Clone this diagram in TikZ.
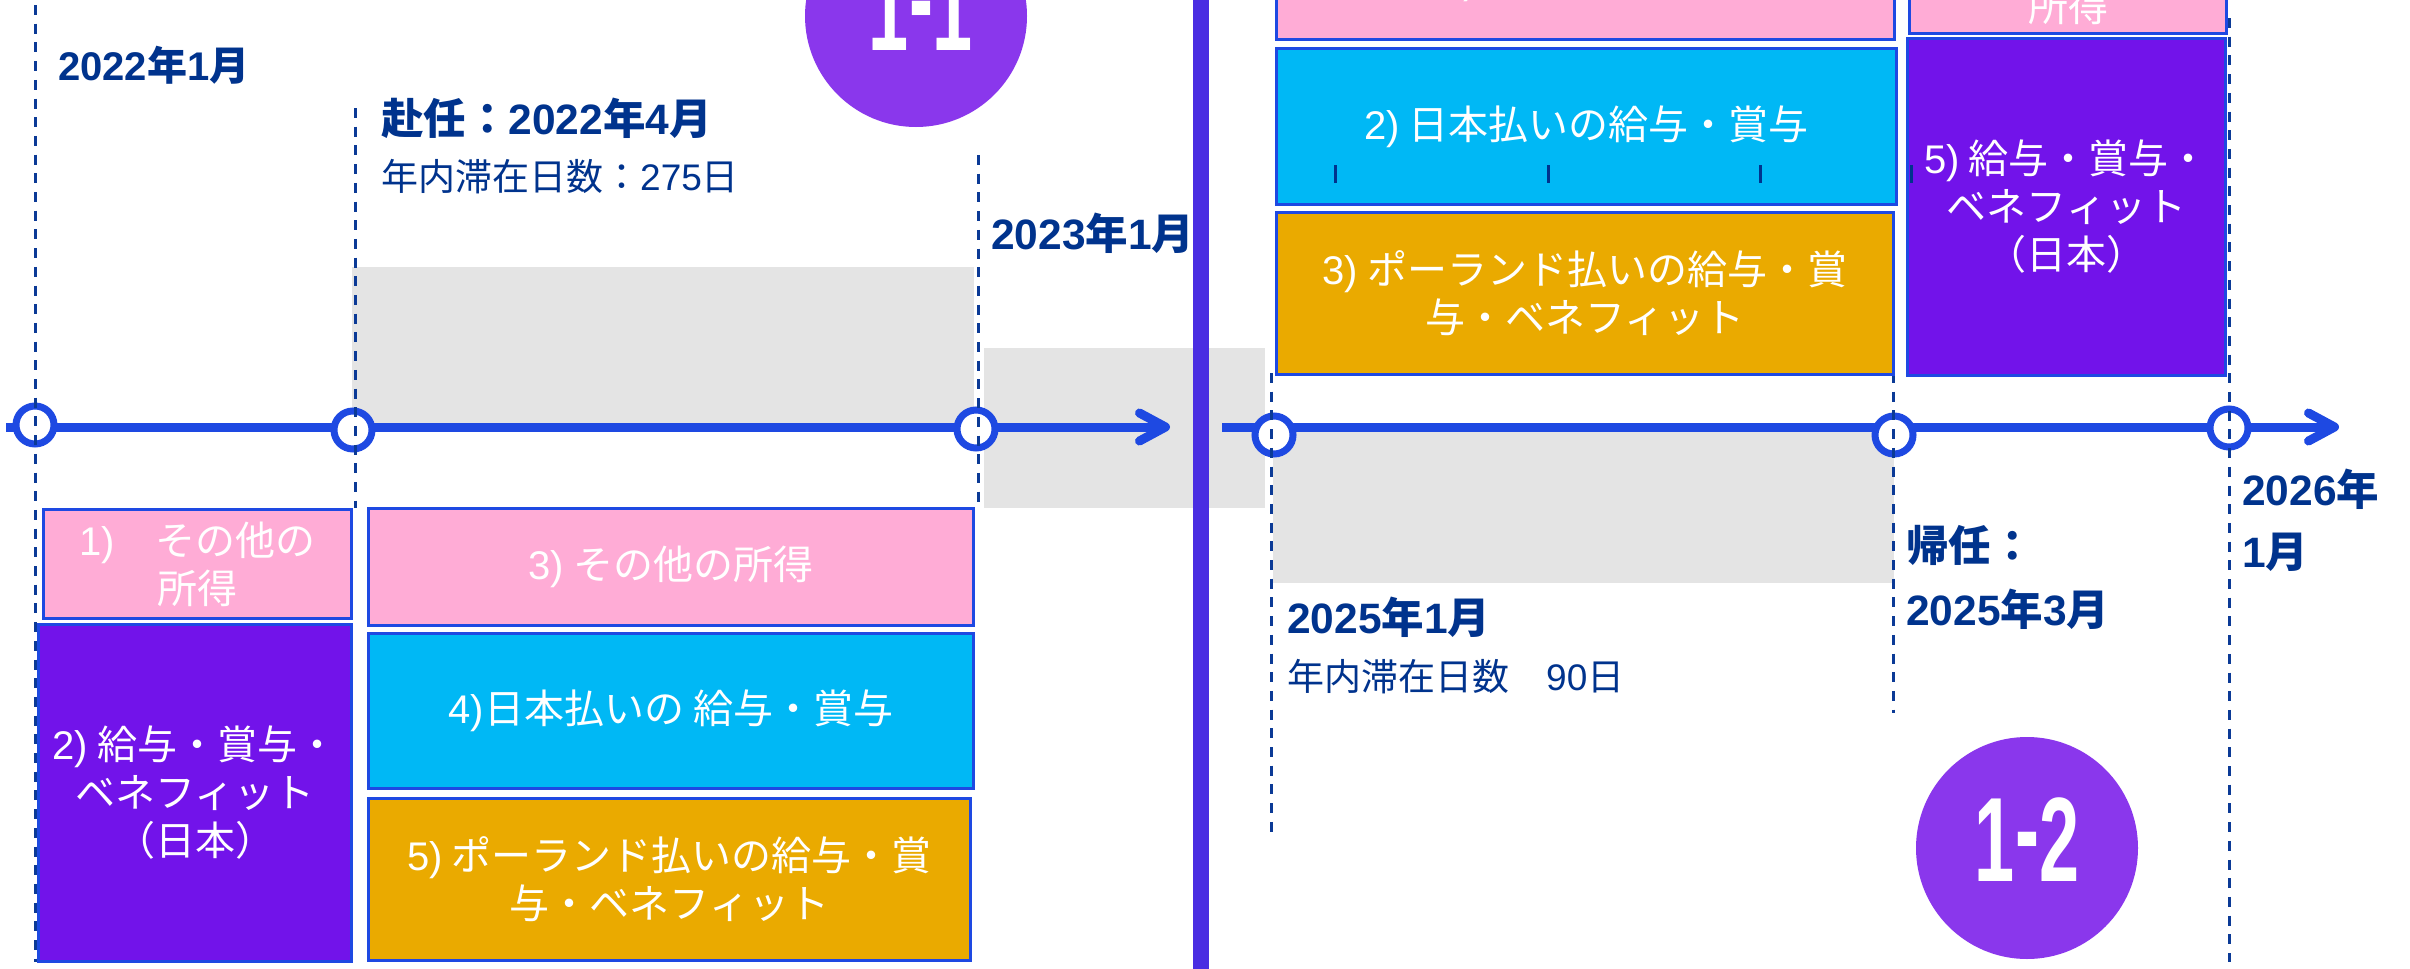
\documentclass[tikz,border=0pt]{standalone}
\usepackage{graphicx}
\usepackage{fontspec}
\setmainfont{Noto Sans CJK JP}
\newfontfamily\ar{Liberation Sans}
\usetikzlibrary{arrows.meta}
\definecolor{navy}{HTML}{00338D}
\definecolor{guidec}{HTML}{0B3A96}
\definecolor{tlblue}{HTML}{1E49E2}
\definecolor{divc}{HTML}{4A2DE2}
\definecolor{pinkc}{HTML}{FFACD6}
\definecolor{cyanc}{HTML}{00B8F5}
\definecolor{purplec}{HTML}{7213EA}
\definecolor{goldc}{HTML}{EAAA00}
\definecolor{badgec}{HTML}{8A37EC}
\definecolor{grayc}{HTML}{E4E4E4}
\begin{document}
\begin{tikzpicture}[x=1pt,y=-1pt,
  box/.style={draw=tlblue, line width=3pt, text=white, align=center, inner sep=0pt, anchor=north west, font=\fontsize{40}{48}\selectfont},
  boxtext/.style={text=white, inner sep=0pt, font=\fontsize{40}{48}\selectfont},
  lbl/.style={anchor=west, inner sep=0pt, text=navy, font=\fontsize{42.5}{50}\selectfont\bfseries},
  sub/.style={anchor=west, inner sep=0pt, text=navy, font=\fontsize{37}{44}\selectfont},
  dot/.style={circle, draw=tlblue, fill=white, line width=7pt, minimum size=38pt, inner sep=0pt},
  tl/.style={draw=tlblue, line width=9pt, -{Straight Barb[length=26pt,width=28pt,round]}},
  guide/.style={draw=guidec, line width=3pt, dash pattern=on 10pt off 8.7pt},
  badge/.style={circle, fill=badgec, minimum size=222pt, inner sep=0pt},
  badgetext/.style={text=white, inner sep=0pt, font=\ar\bfseries\fontsize{120}{120}\selectfont},
  tick/.style={draw=navy, line width=3pt}]

\useasboundingbox (0,0) rectangle (2410,969);
\fill[white] (0,0) rectangle (2410,969);

% grey periods
\fill[grayc] (352,267) rectangle (974,427);
\fill[grayc] (984,348) rectangle (1265,508);
\fill[grayc] (1273,427) rectangle (1894,583);

% divider
\fill[divc] (1193,0) rectangle (1209,969);

% timelines
\coordinate (L0) at (6,427);
\coordinate (L1) at (1170,427);
\draw[tl] (L0) -- (L1);
\coordinate (R0) at (1222,427);
\coordinate (R1) at (2339,427);
\draw[tl] (R0) -- (R1);

\node[dot] (c1) at (35,425) {};
\node[dot] (c2) at (353,430) {};
\node[dot] (c3) at (976,429) {};
\node[dot] (c4) at (1274,435) {};
\node[dot] (c5) at (1894,435) {};
\node[dot] (c6) at (2229,428) {};

% guides
\draw[guide] (35,5) -- (35,962);
\draw[guide] (355,108) -- (355,508);
\draw[guide] (978,155) -- (978,502);
\draw[guide] (1271,373) -- (1271,832);
\draw[guide] (1893,373) -- (1893,713);
\draw[guide] (2229,18) -- (2229,962);

% boxes left
\node[box, fill=pinkc, minimum width=308pt, minimum height=109pt] (b1) at (42,508) {{\ar 1)}　その他の\\所得};
\node[box, fill=purplec, minimum width=313pt, minimum height=337pt] (b2) at (37,623) {{\ar 2)} 給与・賞与・\\ベネフィット\\（日本）};
\node[box, fill=pinkc, minimum width=605pt, minimum height=117pt] (b3) at (367,507) {{\ar 3)} その他の所得};
\node[box, fill=cyanc, minimum width=605pt, minimum height=155pt] (b4) at (367,632) {{\ar 4)}日本払いの 給与・賞与};
\node[box, fill=goldc, minimum width=602pt, minimum height=162pt] (b5) at (367,797) {{\ar 5)} ポーランド払いの給与・賞\\与・ベネフィット};

% boxes right
\node[box, fill=pinkc, minimum width=618pt, minimum height=98pt] (b6) at (1275,-60) {};
\node[boxtext] (b6t) at (1584,-19) {{\ar 1)} その他の所得};
\node[box, fill=pinkc, minimum width=317pt, minimum height=54pt] (b7) at (1908,-22) {所得};
\node[box, fill=cyanc, minimum width=620pt, minimum height=156pt] (b8) at (1275,47) {{\ar 2)} 日本払いの給与・賞与};
\node[box, fill=goldc, minimum width=617pt, minimum height=162pt] (b9) at (1275,211) {{\ar 3)} ポーランド払いの給与・賞\\与・ベネフィット};
\node[box, fill=purplec, minimum width=318pt, minimum height=337pt] (b10) at (1906,37) {{\ar 5)} 給与・賞与・\\ベネフィット\\（日本）};

% small ticks
\draw[tick] (1335,165) -- (1335,183);
\draw[tick] (1548,165) -- (1548,183);
\draw[tick] (1760,165) -- (1760,183);
\draw[tick] (1911,165) -- (1911,183);

% labels
\node[lbl, font=\fontsize{40}{48}\selectfont\bfseries] (t1) at (58,65) {{\ar 2022}年{\ar 1}月};
\node[lbl] (t2) at (381,118) {赴任：{\ar 2022}年{\ar 4}月};
\node[sub] (t3) at (381,177) {年内滞在日数：{\ar 275}日};
\node[lbl] (t4) at (991,233) {{\ar 2023}年{\ar 1}月};
\node[lbl] (t5) at (1287,617) {{\ar 2025}年{\ar 1}月};
\node[sub] (t6) at (1287,677) {年内滞在日数　{\ar 90}日};
\node[lbl] (t7) at (1906,545) {帰任：};
\node[lbl] (t8) at (1906,609) {{\ar 2025}年{\ar 3}月};
\node[lbl] (t9) at (2242,489) {{\ar 2026}年};
\node[lbl] (t10) at (2242,552) {{\ar 1}月};

% badges
\node[badge] (k1) at (916,16) {};
\node[badgetext] (k1t) at (921,9) {\scalebox{0.6}[1]{1\raisebox{11pt}{-}1}};
\node[badge] (k2) at (2027,848) {};
\node[badgetext] (k2t) at (2027,840) {\scalebox{0.6}[1]{1\raisebox{11pt}{-}2}};
\end{tikzpicture}
\end{document}
